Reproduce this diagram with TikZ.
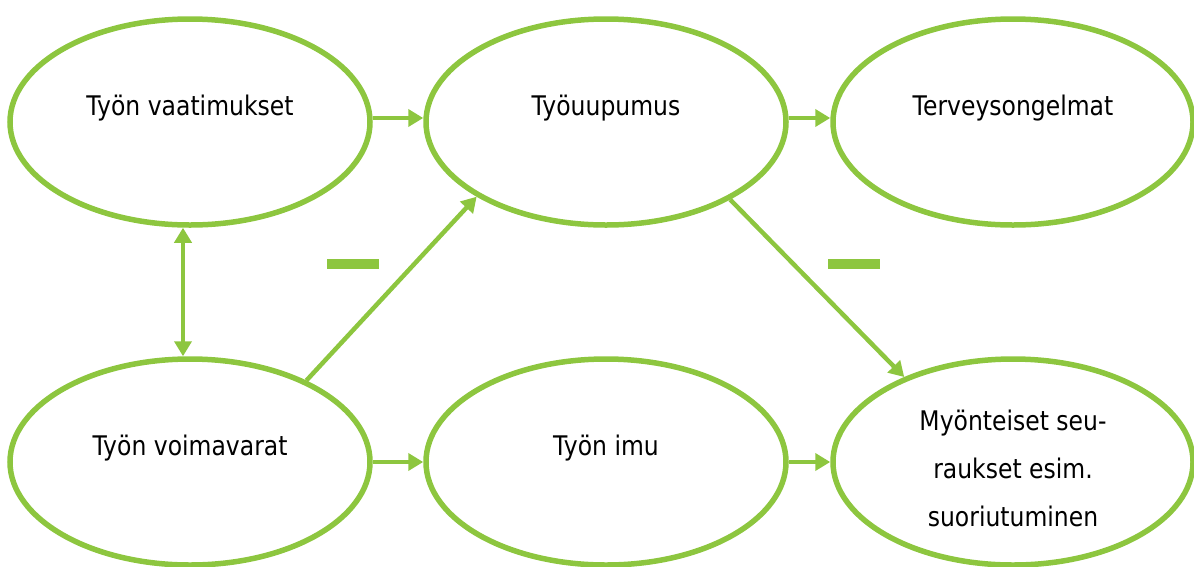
\documentclass[tikz,border=0pt]{standalone}
\usepackage{fontspec}
\setmainfont{DejaVu Sans}[FakeStretch=0.87]
\usetikzlibrary{shapes.geometric,arrows.meta}
\definecolor{lg}{HTML}{8DC63F}
\begin{document}
\begin{tikzpicture}[x=1pt,y=-1pt,
  oval/.style={ellipse, draw=lg, line width=5.5pt, minimum width=360pt, minimum height=206pt,
    inner sep=0pt, align=center, font=\fontsize{27}{48}\selectfont},
  oneline/.style={text height=20pt, text depth=34pt},
  tip/.tip={Triangle[length=15pt,width=17pt]},
  conn/.style={draw=lg, line width=4.5pt, -tip},
  biconn/.style={draw=lg, line width=4.5pt, tip-tip},
  minusbar/.style={fill=lg, minimum width=52pt, minimum height=10pt, inner sep=0pt, outer sep=0pt}]
\useasboundingbox (0,0) rectangle (1194,566);
\node[oval,oneline] (tl) at (190,122) {Työn vaatimukset};
\node[oval,oneline] (tm) at (606,122) {Työuupumus};
\node[oval,oneline] (tr) at (1013,122) {Terveysongelmat};
\node[oval,oneline] (bl) at (190,462) {Työn voimavarat};
\node[oval,oneline] (bm) at (606,462) {Työn imu};
\node[oval] (br) at (1013,462) {\rule{0pt}{34pt}Myönteiset seu-\\raukset esim.\\suoriutuminen};
\draw[conn] ([yshift=4pt]tl.east) -- ([yshift=4pt]tm.west);
\draw[conn] ([yshift=4pt]tm.east) -- ([yshift=4pt]tr.west);
\draw[conn] (bl.east) -- (bm.west);
\draw[conn] (bm.east) -- (br.west);
\draw[biconn] ([xshift=-7pt]tl.south) -- ([xshift=-7pt]bl.north);
\draw[conn] (bl.35) -- (tm.210);
\draw[conn] (tm.328) -- (br.142);
\node[minusbar] (m1) at (353,264) {};
\node[minusbar] (m2) at (854,264) {};
\end{tikzpicture}
\end{document}
